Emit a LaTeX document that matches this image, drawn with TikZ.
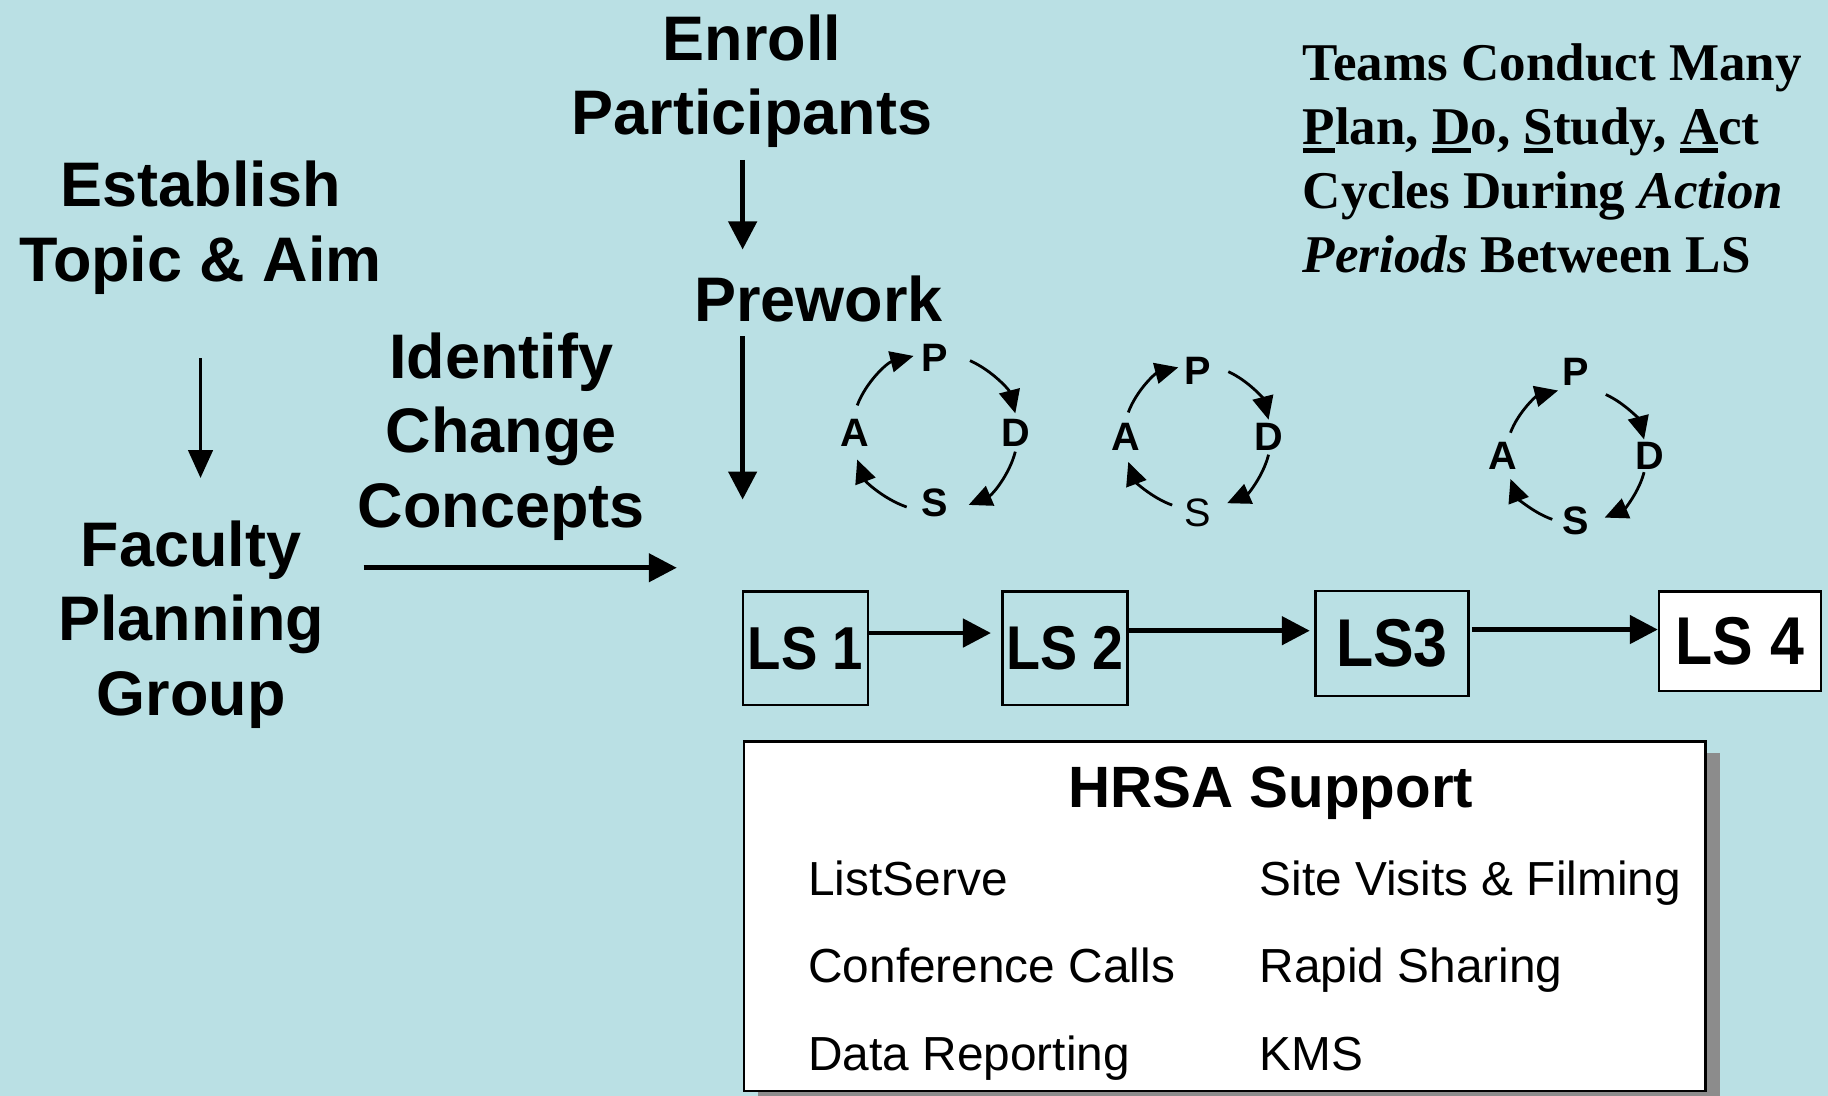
\documentclass[tikz,border=0pt]{standalone}
\usepackage{fontspec}
\setmainfont{Liberation Sans}
\newfontfamily\timesfont{Liberation Serif}
\newfontfamily\lsfont[FakeStretch=0.9]{Liberation Sans}
\usetikzlibrary{arrows.meta,calc,shadows}
\definecolor{bgblue}{RGB}{186,224,228}
\definecolor{shadowgray}{RGB}{140,140,140}
\newcommand{\myul}[1]{\setbox0\hbox{#1}\rlap{\rule[-3.6pt]{\wd0}{1.9pt}}#1}
\newcommand{\pdsacycle}[9]{%
  \coordinate (#1c) at (#2,#3);
  \coordinate (#1o) at ($(#1c)+(0,#7)$);
  \node[cyclbl] (#1P) at ($(#1c)+(0,-#5)$) {P};
  \node[cyclbl] (#1D) at ($(#1o)+(#4,0)$) {D};
  \node[cyclbl,font=#9\fontsize{17}{17}\selectfont] (#1S) at ($(#1c)+(0,#5)$) {S};
  \node[cyclbl] (#1A) at ($(#1o)+(-#4,0)$) {A};
  \draw[cyc] ($(#1o)+(200:#6 and #8)$) arc[start angle=200,end angle=255,x radius=#6,y radius=#8];
  \draw[cyc] ($(#1o)+(295:#6 and #8)$) arc[start angle=295,end angle=346,x radius=#6,y radius=#8];
  \draw[cyc] ($(#1o)+(14:#6 and #8)$) arc[start angle=14,end angle=66,x radius=#6,y radius=#8];
  \draw[cyc] ($(#1o)+(110:#6 and #8)$) arc[start angle=110,end angle=160,x radius=#6,y radius=#8];
}
\begin{document}
\begin{tikzpicture}[x=0.5pt,y=-0.5pt,
  big/.style={font=\bfseries\fontsize{27}{32}\selectfont, align=center, inner sep=0pt, anchor=north},
  thinarr/.style={line width=1.4pt, -{Triangle[length=12pt,width=10.5pt]}},
  thickarr/.style={line width=2pt, -{Triangle[length=12pt,width=12pt]}},
  lsarr/.style={line width=2.1pt, -{Triangle[length=12pt,width=12pt]}},
  cyc/.style={line width=1.2pt, -{Triangle[length=10pt,width=9pt]}},
  cyclbl/.style={font=\bfseries\fontsize{17}{17}\selectfont, inner sep=0pt},
  lsbox/.style={draw, line width=1pt, inner sep=0pt},
  item/.style={font=\fontsize{20.5}{20.5}\selectfont, inner sep=0pt, anchor=base west}]
\fill[bgblue] (0,0) rectangle (1568,940);
\useasboundingbox (0,0) rectangle (1568,940);

% left column
\node[big] (est) at (172,138) {Establish\\Topic \& Aim};
\node[big] (fac) at (164,446) {Faculty\\Planning\\Group};
\node[big] (idc) at (430,285) {Identify\\Change\\Concepts};
\node[big] (enr) at (645,12) {Enroll\\Participants};
\node[big] (pre) at (702,236) {Prework};

% LS boxes
\node[lsbox, minimum width=53.5pt, minimum height=48.5pt, font=\lsfont\bfseries\fontsize{26}{26}\selectfont] (ls1) at (691,556) {LS 1};
\node[lsbox, minimum width=53.5pt, minimum height=48.5pt, font=\lsfont\bfseries\fontsize{26.5}{26.5}\selectfont] (ls2) at (913.5,556) {LS 2};
\node[lsbox, minimum width=65.5pt, minimum height=45pt, font=\lsfont\bfseries\fontsize{29}{29}\selectfont] (ls3) at (1194,552) {LS3};
\node[lsbox, fill=white, minimum width=69.5pt, minimum height=42.5pt, font=\lsfont\bfseries\fontsize{29}{29}\selectfont] (ls4) at (1492.5,550) {LS 4};

% arrows
\draw[thinarr, shorten <=27pt, shorten >=18pt] (est.south) -- (est.south |- fac.north);
\coordinate (ex) at (637,0);
\draw[thickarr, shorten <=5pt, shorten >=11pt] (enr.south -| ex) -- (pre.north -| ex);
\draw[thickarr, shorten <=6pt, shorten >=39pt] (pre.south -| ex) -- (ls1.north -| ex);
\coordinate (hs) at (312,487);
\draw[thickarr, shorten >=28pt] (hs) -- (hs -| ls1.west);

\coordinate (l12) at ($(ls1.east)+(0,-13)$);
\coordinate (l23) at ($(ls2.east)+(0,-15)$);
\coordinate (l34) at ($(ls3.east)+(0,-12)$);
\draw[lsarr, shorten >=4.5pt] (l12) -- (l12 -| ls2.west);
\draw[lsarr, shorten >=2pt] (l23) -- (l23 -| ls3.west);
\draw[lsarr, shorten <=1pt] (l34) -- (l34 -| ls4.west);

% PDSA cycles
\pdsacycle{a}{802}{369}{69}{62}{71}{2}{68}{\bfseries}
\pdsacycle{b}{1027}{379}{61}{61}{63}{-4}{62}{\mdseries}
\pdsacycle{c}{1352}{383}{63}{64}{60}{8}{58}{\bfseries}

% right text
\node[anchor=north west, align=left, inner sep=0pt, font=\timesfont\bfseries\fontsize{22.75}{27.5}\selectfont] (teams) at (1117,37)
  {Teams Conduct Many\\\myul{P}lan, \myul{D}o, \myul{S}tudy, \myul{A}ct\\Cycles During \textit{Action}\\\textit{Periods} Between LS};

% HRSA support box
\node[draw, fill=white, line width=1pt, minimum width=412.5pt, minimum height=150pt, inner sep=0pt,
  drop shadow={shadow xshift=6pt, shadow yshift=-5pt, fill=shadowgray, opacity=1}] (hrsa) at (1050.5,786) {};
\node[font=\bfseries\fontsize{25}{25}\selectfont, anchor=base, inner sep=0pt] (hrsat) at (1090,693) {HRSA Support};
\node[item] (i1) at (693,768) {ListServe};
\node[item] (i2) at (693,843) {Conference Calls};
\node[item] (i3) at (693,918) {Data Reporting};
\node[item] (i4) at (1080,768) {Site Visits \& Filming};
\node[item] (i5) at (1080,843) {Rapid Sharing};
\node[item] (i6) at (1080,918) {KMS};
\end{tikzpicture}
\end{document}
